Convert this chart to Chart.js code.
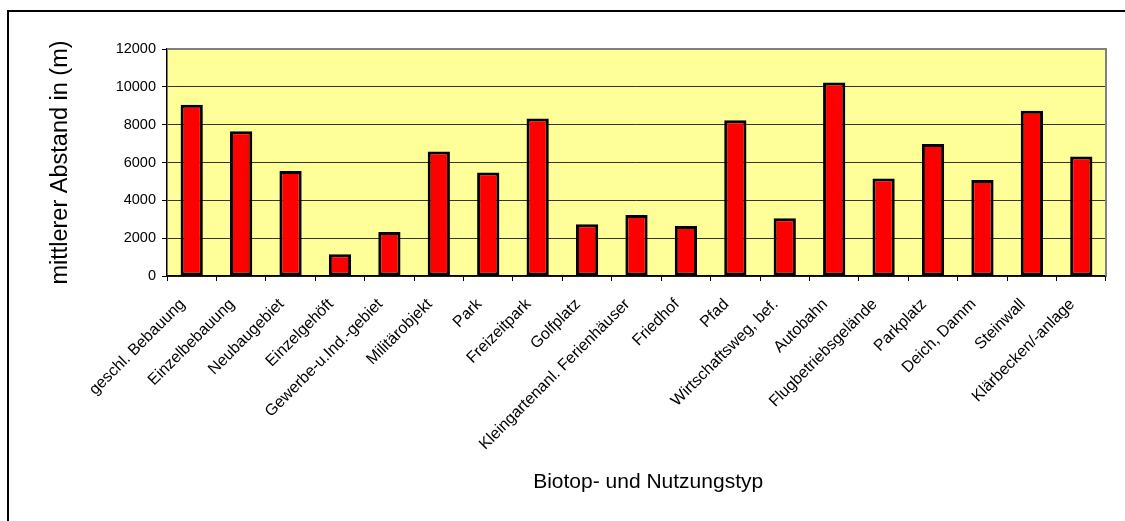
<!DOCTYPE html>
<html>

<head>
    <meta charset="utf-8">
    <title>Biotop- und Nutzungstyp</title>
    <script type="text/javascript" src="https://cdn.jsdelivr.net/npm/chart.js@4/dist/chart.umd.min.js"></script>
    <style>
        body { margin: 0; background: #fff; }
        canvas { display: block; }
    </style>
</head>

<body>
    <canvas id="chart" width="1125" height="521"></canvas>
    <script>
        // categories and mean distance values (m)
        const categories = [
            'geschl. Bebauung', 'Einzelbebauung', 'Neubaugebiet', 'Einzelgehöft',
            'Gewerbe-u.Ind.-gebiet', 'Militärobjekt', 'Park', 'Freizeitpark', 'Golfplatz',
            'Kleingartenanl. Ferienhäuser', 'Friedhof', 'Pfad', 'Wirtschaftsweg, bef.',
            'Autobahn', 'Flugbetriebsgelände', 'Parkplatz', 'Deich, Damm', 'Steinwall',
            'Klärbecken/-anlage'
        ]
        const abstand = [9050, 7650, 5550, 1150, 2330, 6580, 5470, 8330, 2730, 3230,
            2640, 8230, 3050, 10230, 5150, 6980, 5080, 8730, 6320]
        const yTicks = [0, 2000, 4000, 6000, 8000, 10000, 12000]

        const font = "'Liberation Sans', Arial, sans-serif"

        const frame = {
            id: 'frame',
            beforeDraw(chart) {
                const { ctx, chartArea: a } = chart
                ctx.save()
                // outer border (only top and left visible)
                ctx.strokeStyle = '#000'
                ctx.lineWidth = 2
                ctx.beginPath()
                ctx.moveTo(8, 521)
                ctx.lineTo(8, 11)
                ctx.lineTo(1125, 11)
                ctx.stroke()
                // plot area
                ctx.fillStyle = '#FFFF99'
                ctx.fillRect(a.left, a.top, a.right - a.left, a.bottom - a.top)
                ctx.restore()
            },
            afterDraw(chart) {
                const { ctx, chartArea: a } = chart
                ctx.save()
                ctx.strokeStyle = '#808080'
                ctx.lineWidth = 2
                ctx.beginPath()
                ctx.moveTo(a.left, a.top)
                ctx.lineTo(a.right, a.top)
                ctx.lineTo(a.right, a.bottom)
                ctx.stroke()
                ctx.restore()
            }
        }

        const config = {
            type: 'bar',
            data: {
                labels: categories,
                datasets: [{
                    data: abstand,
                    backgroundColor: '#FF0000',
                    borderColor: '#000',
                    borderWidth: 3,
                    borderSkipped: false,
                    barPercentage: 0.45,
                    categoryPercentage: 1
                }]
            },
            options: {
                responsive: false,
                animation: false,
                layout: { padding: { top: 49, right: 19, left: 0, bottom: 0 } },
                plugins: {
                    legend: { display: false },
                    tooltip: { enabled: false }
                },
                scales: {
                    x: {
                        grid: {
                            offset: true,
                            drawOnChartArea: false,
                            tickLength: 5,
                            tickColor: '#000'
                        },
                        border: { color: '#000', width: 1.5 },
                        ticks: {
                            autoSkip: false,
                            minRotation: 45,
                            maxRotation: 45,
                            padding: 14,
                            labelOffset: -9,
                            color: '#000',
                            font: { family: font, size: 16 }
                        },
                        title: {
                            display: true,
                            text: '    Biotop- und Nutzungstyp',
                            color: '#000',
                            font: { family: font, size: 21 },
                            padding: { top: 0, bottom: 26 }
                        },
                        afterFit: (s) => { s.height = 245 }
                    },
                    y: {
                        min: 0,
                        max: 12000,
                        afterBuildTicks: (s) => { s.ticks = yTicks.map((v) => ({ value: v })) },
                        grid: {
                            color: '#333',
                            lineWidth: 1,
                            tickLength: 5,
                            tickColor: '#000'
                        },
                        border: { color: '#000', width: 1.5 },
                        ticks: {
                            padding: 6,
                            color: '#000',
                            font: { family: font, size: 14.5 },
                            callback: (v) => String(v)
                        },
                        title: {
                            display: true,
                            text: 'mittlerer Abstand in (m)',
                            color: '#000',
                            font: { family: font, size: 23.5 },
                            padding: { top: 46, bottom: 0 }
                        },
                        afterFit: (s) => { s.width = 167 }
                    }
                }
            },
            plugins: [frame]
        }

        const myChart = new Chart(document.getElementById('chart'), config)
    </script>
</body>

</html>
